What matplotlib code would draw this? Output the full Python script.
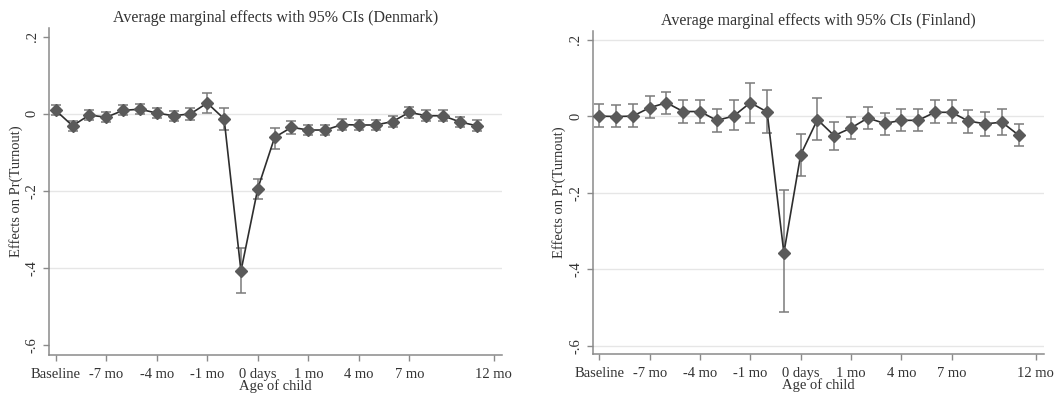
import matplotlib
matplotlib.use("Agg")
import matplotlib.pyplot as plt

plt.rcParams['font.family'] = ['Liberation Serif', 'DejaVu Serif']

tick_pos = [0, 3, 6, 9, 12, 15, 18, 21, 26]
tick_labels = ['Baseline', '-7 mo', '-4 mo', '-1 mo', '0 days', '1 mo', '4 mo', '7 mo', '12 mo']

# Denmark estimates and 95% CI bounds
dk_est = [0.009, -0.031, -0.003, -0.009, 0.009, 0.012, 0.002, -0.005, 0.0, 0.028,
          -0.013, -0.408, -0.194, -0.061, -0.035, -0.042, -0.042, -0.028, -0.029, -0.029,
          -0.020, 0.004, -0.005, -0.005, -0.021, -0.031]
dk_lo = [-0.004, -0.044, -0.016, -0.022, -0.004, -0.001, -0.011, -0.018, -0.016, 0.002,
         -0.042, -0.465, -0.222, -0.090, -0.052, -0.056, -0.056, -0.042, -0.043, -0.043,
         -0.034, -0.010, -0.019, -0.019, -0.035, -0.045]
dk_hi = [0.022, -0.018, 0.010, 0.004, 0.022, 0.025, 0.015, 0.008, 0.016, 0.054,
         0.014, -0.347, -0.168, -0.036, -0.018, -0.028, -0.028, -0.014, -0.015, -0.015,
         -0.006, 0.018, 0.009, 0.009, -0.007, -0.017]

# Finland estimates and 95% CI bounds
fi_est = [0.0, -0.001, 0.0, 0.022, 0.035, 0.012, 0.012, -0.011, 0.0, 0.035,
          0.011, -0.357, -0.101, -0.009, -0.051, -0.031, -0.005, -0.019, -0.011, -0.011,
          0.010, 0.010, -0.013, -0.020, -0.016, -0.050]
fi_lo = [-0.029, -0.029, -0.029, -0.006, 0.005, -0.017, -0.019, -0.041, -0.037, -0.019,
         -0.045, -0.512, -0.155, -0.062, -0.088, -0.061, -0.033, -0.049, -0.040, -0.040,
         -0.019, -0.019, -0.043, -0.051, -0.048, -0.078]
fi_hi = [0.032, 0.030, 0.032, 0.052, 0.063, 0.041, 0.043, 0.019, 0.041, 0.086,
         0.069, -0.194, -0.046, 0.047, -0.015, -0.003, 0.023, 0.009, 0.018, 0.018,
         0.041, 0.041, 0.017, 0.010, 0.018, -0.020]

panels = [
    ('Denmark', dk_est, dk_lo, dk_hi, [0.0461, 0.1035, 0.4266, 0.826], (-0.626, 0.223), [0, -0.2, -0.4]),
    ('Finland', fi_est, fi_lo, fi_hi, [0.558, 0.105, 0.425, 0.817], (-0.622, 0.2225), [0.2, 0, -0.2, -0.4, -0.6]),
]

fig = plt.figure(figsize=(10.62, 3.96), dpi=100)
for name, est, lo, hi, rect, ylim, grid_at in panels:
    ax = fig.add_axes(rect)
    x = list(range(len(est)))
    for g in grid_at:
        ax.axhline(g, color='#e6e6e6', lw=1.0, zorder=0)
    yerr = [[e - l for e, l in zip(est, lo)], [h - e for e, h in zip(est, hi)]]
    ax.errorbar(x, est, yerr=yerr, fmt='none', ecolor='#7a7a7a', elinewidth=1.1,
                capsize=3.3, capthick=1.1, zorder=2)
    ax.plot(x, est, color='#2e2e2e', lw=1.2, zorder=3)
    ax.plot(x, est, 'D', color='#5a5a5a', ms=6, mec='#5a5a5a', zorder=4)
    ax.set_xlim(-0.4, 26.5)
    ax.set_ylim(*ylim)
    ax.set_xticks(tick_pos)
    ax.set_xticklabels(tick_labels, fontsize=10.5)
    ax.set_yticks([0.2, 0, -0.2, -0.4, -0.6])
    ax.set_yticklabels(['.2', '0', '-.2', '-.4', '-.6'], fontsize=10.5, rotation=90, va='center')
    for s in ['top', 'right']:
        ax.spines[s].set_visible(False)
    for s in ['left', 'bottom']:
        ax.spines[s].set_color('#8a8a8a')
        ax.spines[s].set_linewidth(1.1)
    ax.tick_params(colors='#8a8a8a', labelcolor='#333333', length=4, width=1.0)
    ax.tick_params(axis='x', pad=5)
    ax.set_xlabel('Age of child', fontsize=10.5, color='#333333', labelpad=-1)
    ax.set_ylabel('Effects on Pr(Turnout)', fontsize=10.5, color='#333333', labelpad=2)
    ax.set_title('Average marginal effects with 95%% CIs (%s)' % name, fontsize=11.5,
                 color='#333333', pad=4)

fig.savefig('out.png', dpi=100)
